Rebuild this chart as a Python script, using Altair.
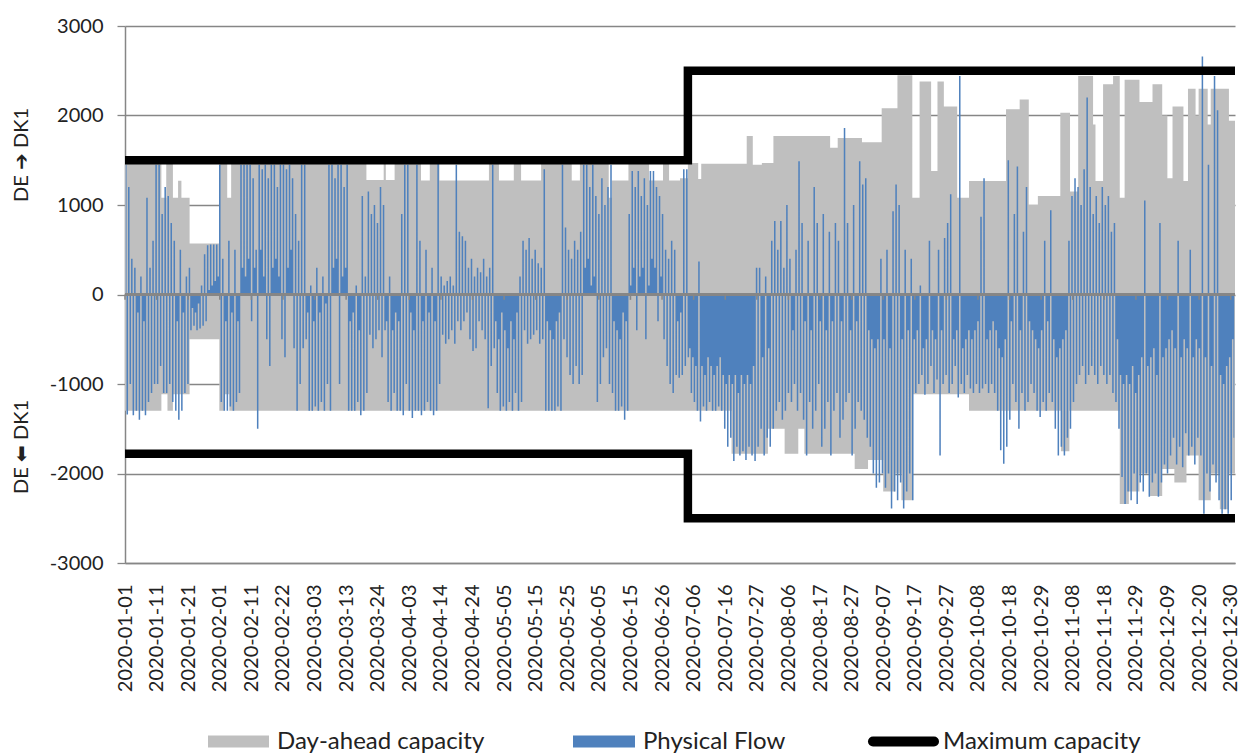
import altair as alt
import pandas as pd

# ---------------- data ----------------
N_DAYS = 366  # 2020 is a leap year; x is measured in days from 2020-01-01 00:00

TICK_LABELS = [
    "2020-01-01", "2020-01-11", "2020-01-21", "2020-02-01", "2020-02-11", "2020-02-22",
    "2020-03-03", "2020-03-13", "2020-03-24", "2020-04-03", "2020-04-14", "2020-04-24",
    "2020-05-05", "2020-05-15", "2020-05-25", "2020-06-05", "2020-06-15", "2020-06-26",
    "2020-07-06", "2020-07-16", "2020-07-27", "2020-08-06", "2020-08-17", "2020-08-27",
    "2020-09-07", "2020-09-17", "2020-09-27", "2020-10-08", "2020-10-18", "2020-10-29",
    "2020-11-08", "2020-11-18", "2020-11-29", "2020-12-09", "2020-12-20", "2020-12-30",
]
HOURS_PER_LABEL = 250

Y_TICKS = [-3000, -2000, -1000, 0, 1000, 2000, 3000]

# Day-ahead capacity DE -> DK1 (step changes: start day, MW)
CAP_UP_DAY = [0, 12.0, 13.6, 15.8, 17.5, 18.6, 21.3, 31.1, 33.7, 35.0, 79.6, 85.3, 86.0, 88.9,
              97.6, 100.5, 103.7, 120.0, 123.3, 128.2, 130.6, 137.2, 147.3, 150.0, 159.5, 160.5,
              166.0, 172.8, 177.4, 179.4, 183.0, 185.6, 189.0, 190.0, 205.0, 207.0, 210.0, 213.8,
              232.5, 235.0, 243.0, 249.5, 254.7, 259.6, 262.0, 265.8, 267.9, 270.0, 274.4, 278.3,
              290.5, 295.0, 298.0, 301.0, 308.4, 311.6, 314.3, 319.2, 320.0, 322.5, 325.8, 328.0,
              329.6, 334.5, 338.8, 342.0, 343.7, 345.4, 349.0, 350.5, 353.0, 354.0, 357.0, 358.0,
              364.0]
CAP_UP = [1460, 1080, 1460, 1080, 1270, 1080, 570, 1460, 1080, 1460, 1280, 1460, 1280, 1460,
          1275, 1460, 1275, 1460, 1275, 1460, 1275, 1460, 1275, 1460, 1080, 1275,
          1460, 1275, 1460, 1275, 1300, 1470, 1290, 1460, 1770, 1450, 1470, 1770,
          1640, 1750, 1700, 2080, 2450, 1080, 2380, 1380, 2380, 2100, 1080, 1267,
          2070, 2180, 1000, 1100, 2030, 1150, 2440, 1900, 1267, 2350, 2440, 1080,
          2400, 2150, 2350, 2000, 1300, 2100, 1267, 2300, 2000, 2300, 1900, 2300,
          1940]

# Day-ahead capacity DK1 -> DE (negative, step changes)
CAP_DN_DAY = [0, 12.0, 14.0, 15.8, 21.3, 31.1, 32.7, 34.4, 200.0, 212.0, 217.5, 222.0, 224.0,
              240.6, 245.0, 250.0, 254.0, 256.0, 259.6, 278.3, 308.6, 311.4, 328.0, 331.0,
              334.5, 338.0, 342.0, 346.0, 350.0, 354.0, 358.0, 361.0, 364.0]
CAP_DN = [-1300, -1114, -1300, -1114, -500, -1300, -1114, -1300, -1780, -1500, -1780, -1500, -1780,
          -1950, -1850, -2200, -2000, -2300, -1114, -1300, -1750, -1300, -2340, -2200,
          -2000, -2250, -1950, -2100, -1800, -2300, -2000, -2400, -2000]

# Physical flow: daily highest and lowest hourly value (MW, + = DE -> DK1)
FLOW_MAX = [
    1450, 1200, 400, 300, -200, 200, -300, 1080, 300, 600,
    1450, 1450, 900, 1200, 1100, 800, 600, -300, 500, -200,
    200, 300, -150, -200, -100, 100, 450, 550, 560, 560,
    560, 1450, 400, -300, 600, -200, 500, -300, 1450, 1450,
    1450, 1450, 1300, 500, 1450, 1400, 1450, 1300, 1450, 1450,
    1200, 1450, 1450, 1400, 1450, 1300, 900, 600, 1450, 1450,
    -200, 100, -300, 300, -200, 200, -100, 1450, 1450, 1300,
    1450, 1450, 1200, 1450, -300, -200, 100, -400, 1100, 200,
    1150, 900, 1000, 800, 1200, 1000, -300, 200, -400, -200,
    -300, 900, 1450, 1450, -200, -400, 1450, 600, -300, 500,
    -200, 300, -300, 1500, 200, 100, 150, 200, 100, 1450,
    700, 650, 600, 300, 400, 200, 300, 250, 400, 200,
    300, 1450, -300, -500, -200, -400, -600, -300, -500, -200,
    200, 600, 500, 630, 400, 500, 350, 300, 1400, -300,
    -400, -500, -300, -200, 1450, 750, 500, 400, 600, 500,
    700, 1450, 1450, 1200, 1450, 1100, 900, 1300, 1000, 1200,
    1450, -300, -400, -500, -200, -300, 900, 1380, 1200, 1380,
    1100, 1300, 1000, 1380, 1380, 1200, 1100, 900, 500, 400,
    600, 500, -300, -200, 1400, 1400, -600, -700, -800, 370,
    -800, -900, -700, -800, -900, -800, -700, -900, -1000, -900,
    -1000, -900, -1100, -900, -1000, -900, -1000, -800, 300, 300,
    -700, 200, -600, 600, 820, 500, 820, 300, 1000, 400,
    -400, 500, 1490, 800, -300, 600, -400, 1200, 800, -300,
    900, -400, 700, -300, 800, 600, -300, 1860, 800, -400,
    1000, -300, 1490, 1230, 1300, -400, -500, -600, -500, 400,
    -500, 500, -600, 930, 1230, 1000, -500, 500, -400, 400,
    -500, -400, 100, -600, -500, 600, -400, -500, 500, -400,
    630, 800, 1120, -500, -400, 2440, -600, -500, -400, -500,
    -400, -300, 870, 1300, -500, -400, -300, -400, -600, -700,
    -500, 1500, -300, 900, 1430, -400, 700, 1200, -300, -400,
    -500, -600, -400, 600, -300, 940, -500, -700, -600, -500,
    -400, 600, 1100, 1300, 1200, 1000, 1400, 2200, 1200, 900,
    1100, 800, 1200, 1000, 1100, 700, 800, -500, -900, -1000,
    -900, -1000, -800, -1100, -900, -700, 1050, -800, -700, -600,
    -900, 800, -700, -600, -500, -400, -600, 600, -700, -500,
    -600, 500, -700, -500, -600, 2660, -700, 1450, -800, 2440,
    2060, -900, -1000, -800, -700, -500,
]
FLOW_MIN = [
    -1340, -1000, -1350, -1300, -1400, -1300, -1350, -1200, -1100, -1000,
    -1000, -800, -1100, -1100, -1000, -1200, -1300, -1400, -1300, -1100,
    -1000, -400, -350, -400, -380, -350, -300, 50, 100, 150,
    200, -1200, -1300, -1300, -1250, -1300, -1200, -1100, 300, 200,
    400, -300, 300, -1500, 500, 200, -500, -800, 300, 400,
    200, -500, -700, 300, 500, -600, -1300, -1000, -600, -500,
    -1300, -1300, -1250, -1300, -1200, -1300, -1000, -1300, 300, 400,
    -1000, 200, 300, -1300, -1300, -1300, -1200, -1350, -1300, -1100,
    -450, -600, -500, -400, -700, -400, -1200, -1300, -1100, -1300,
    -1300, -1350, -1000, -1300, -1380, -1300, -1300, -1350, -1300, -1200,
    -1300, -1350, -1300, -1000, -450, -550, -500, -400, -550, -300,
    -400, -300, -200, -500, -630, -600, -300, -400, -500, -1270,
    -800, -600, -1100, -1300, -1250, -1300, -1200, -1300, -1100, -1300,
    -1200, -400, -550, -500, -450, -400, -550, -500, -1300, -1300,
    -1300, -1300, -1250, -1300, -500, -700, -900, -1000, -800, -1000,
    -900, 300, 400, 100, 200, -1200, -1000, -700, -600, -1000,
    -1100, -1300, -1300, -1250, -1400, -1300, 100, 300, -400, 200,
    300, -500, 100, 400, 300, -300, 200, -500, -800, -1000,
    -1100, -900, -930, -900, -800, -700, -1100, -1200, -1300, -1420,
    -1250, -1300, -1200, -1300, -1300, -1250, -1300, -1500, -1700, -1600,
    -1860, -1700, -1800, -1750, -1850, -1700, -1800, -1860, -1700, -1500,
    -1800, -1600, -1700, -1500, -1300, -1200, -1400, -1300, -1100, -1200,
    -1000, -1300, -1100, -1400, -1800, -1200, -1500, -1300, -1000, -1700,
    -1500, -1200, -1800, -1300, -1100, -1600, -1400, -1200, -1100, -1800,
    -1500, -1200, -1300, -1400, -1600, -1700, -2000, -2160, -2100, -2000,
    -2160, -2000, -2390, -2200, -2300, -2100, -2390, -2200, -2000, -2300,
    -1100, -1000, -900, -1120, -1000, -800, -1100, -950, -1800, -1000,
    -900, -1100, -1000, -800, -1150, -1000, -1100, -900, -1050, -1100,
    -1000, -1100, -1050, -1000, -1100, -1000, -1100, -1300, -1740, -1890,
    -1700, -1400, -1000, -1200, -1500, -1100, -1300, -1200, -1000, -1100,
    -1300, -1370, -1200, -1300, -1100, -1200, -1500, -1800, -1700, -1800,
    -1600, -1500, -1200, -1000, -900, -800, -1000, -900, -800, -900,
    -1000, -800, -900, -1000, -900, -1100, -1200, -1500, -2040, -2340,
    -2200, -2300, -2000, -2340, -2100, -2200, -2000, -2260, -2100, -2000,
    -2260, -2100, -1900, -2000, -1800, -1600, -1900, -1700, -1930, -1550,
    -1800, -1700, -1900, -1600, -1800, -2450, -2000, -2200, -1900, -2100,
    -2300, -2450, -2400, -2450, -2300, -1600,
]

# Maximum capacity (step change early July)
MAXCAP_DAY = [0, 185.6, 366]
MAXCAP_UP = [1500, 2500, 2500]
MAXCAP_DN = [-1780, -2500, -2500]

LEGEND_LABELS = ["Day-ahead capacity", "Physical Flow", "Maximum capacity"]
AXIS_TITLES = ["DE \u2794 DK1", "DE \u2B05 DK1"]

# ---------------- styling ----------------
GRAY = "#BFBFBF"
BLUE = "#4F81BD"
AXIS_GRAY = "#868686"
TEXT = "#222222"
FONT = "Lato"

# ---------------- tables ----------------
def steps(days, vals):
    return pd.DataFrame({"t": list(days) + [N_DAYS], "v": list(vals) + [vals[-1]]})

cap_up_df = steps(CAP_UP_DAY, CAP_UP)
cap_dn_df = steps(CAP_DN_DAY, CAP_DN)

flow_rows = []
for d, (hi, lo) in enumerate(zip(FLOW_MAX, FLOW_MIN)):
    flow_rows.append({"t": d + 0.25, "v": hi})
    flow_rows.append({"t": d + 0.75, "v": lo})
flow_df = pd.DataFrame(flow_rows)

maxcap_df = pd.concat([
    pd.DataFrame({"t": MAXCAP_DAY, "v": MAXCAP_UP, "s": "up"}),
    pd.DataFrame({"t": MAXCAP_DAY, "v": MAXCAP_DN, "s": "dn"}),
])

tick_pos = [i * HOURS_PER_LABEL / 24 for i in range(len(TICK_LABELS))]
ticks_df = pd.DataFrame({"t": tick_pos, "v": [0] * len(tick_pos), "v2": [-60] * len(tick_pos)})

label_array = "[" + ",".join("'%s'" % s for s in TICK_LABELS) + "]"
label_expr = label_array + "[round(datum.value*24/%d)]" % HOURS_PER_LABEL

xscale = alt.Scale(domain=[0, N_DAYS], nice=False, zero=False)
yscale = alt.Scale(domain=[-3000, 3000], nice=False)

x_axis = alt.Axis(
    values=tick_pos, labelExpr=label_expr, labelAngle=270, labelFont=FONT,
    labelFontSize=20, labelColor=TEXT, labelPadding=21, ticks=False,
    domain=True, domainColor=AXIS_GRAY, domainWidth=1.5, grid=False,
    labelFlush=False, labelOverlap=False, title=None,
)
y_axis = alt.Axis(
    values=Y_TICKS, labelExpr="'' + datum.value", grid=True, gridColor=AXIS_GRAY,
    gridWidth=1.3, domain=True, domainColor=AXIS_GRAY, domainWidth=1.5,
    ticks=True, tickColor=AXIS_GRAY, tickSize=8, tickWidth=1.3,
    labelFont=FONT, labelFontSize=20, labelColor=TEXT, labelPadding=14, title=None,
)

X = alt.X("t:Q", scale=xscale, axis=x_axis)
Y = alt.Y("v:Q", scale=yscale, axis=y_axis)

cap_up = alt.Chart(cap_up_df).mark_area(color=GRAY, interpolate="step-after").encode(
    x=X, y=Y, y2=alt.datum(0))
cap_dn = alt.Chart(cap_dn_df).mark_area(color=GRAY, interpolate="step-after").encode(
    x=X, y=Y, y2=alt.datum(0))
flow = alt.Chart(flow_df).mark_area(color=BLUE, interpolate="step").encode(
    x=X, y=Y, y2=alt.datum(0))

zero_line = alt.Chart(ticks_df).mark_rule(color=AXIS_GRAY, strokeWidth=2).encode(y=Y)
zero_ticks = alt.Chart(ticks_df).mark_rule(color=AXIS_GRAY, strokeWidth=1.5).encode(
    x=X, y=Y, y2="v2:Q")

maxcap = alt.Chart(maxcap_df).mark_line(
    color="black", strokeWidth=8.5, interpolate="step-after", strokeJoin="miter"
).encode(x=X, y=Y, detail="s:N")

one = pd.DataFrame({"k": [0]})

def legend_rect(x0, x1, color):
    return alt.Chart(one).mark_rect(color=color).encode(
        x=alt.value(x0), x2=alt.value(x1), y=alt.value(709.5), y2=alt.value(721.5))

def legend_text(x0, label):
    return alt.Chart(one).mark_text(
        text=label, align="left", baseline="alphabetic", font=FONT, fontSize=24, color=TEXT
    ).encode(x=alt.value(x0), y=alt.value(723))

leg = [
    legend_rect(83, 144, GRAY), legend_text(152, LEGEND_LABELS[0]),
    legend_rect(448, 510, BLUE), legend_text(518, LEGEND_LABELS[1]),
    alt.Chart(one).mark_rule(color="black", strokeWidth=10, strokeCap="round").encode(
        x=alt.value(748), x2=alt.value(809), y=alt.value(715.5)),
    legend_text(818, LEGEND_LABELS[2]),
]

titles = [
    alt.Chart(one).mark_text(text=AXIS_TITLES[0], angle=270, align="center", baseline="middle",
                             font=FONT, fontSize=20, color=TEXT).encode(
        x=alt.value(-103), y=alt.value(129)),
    alt.Chart(one).mark_text(text=AXIS_TITLES[1], angle=270, align="center", baseline="middle",
                             font=FONT, fontSize=20, color=TEXT).encode(
        x=alt.value(-103), y=alt.value(421)),
]

chart = alt.layer(
    cap_up, cap_dn, flow, zero_line, zero_ticks, maxcap, *titles, *leg
).resolve_scale(x="shared", y="shared").properties(
    width=1110, height=537,
    autosize=alt.AutoSizeParams(type="none"),
    padding={"left": 117, "top": 18, "right": 5, "bottom": 191},
    background="white",
).configure_view(stroke=None)

chart.save("out.html", embed_options={"renderer": "svg", "actions": False})
